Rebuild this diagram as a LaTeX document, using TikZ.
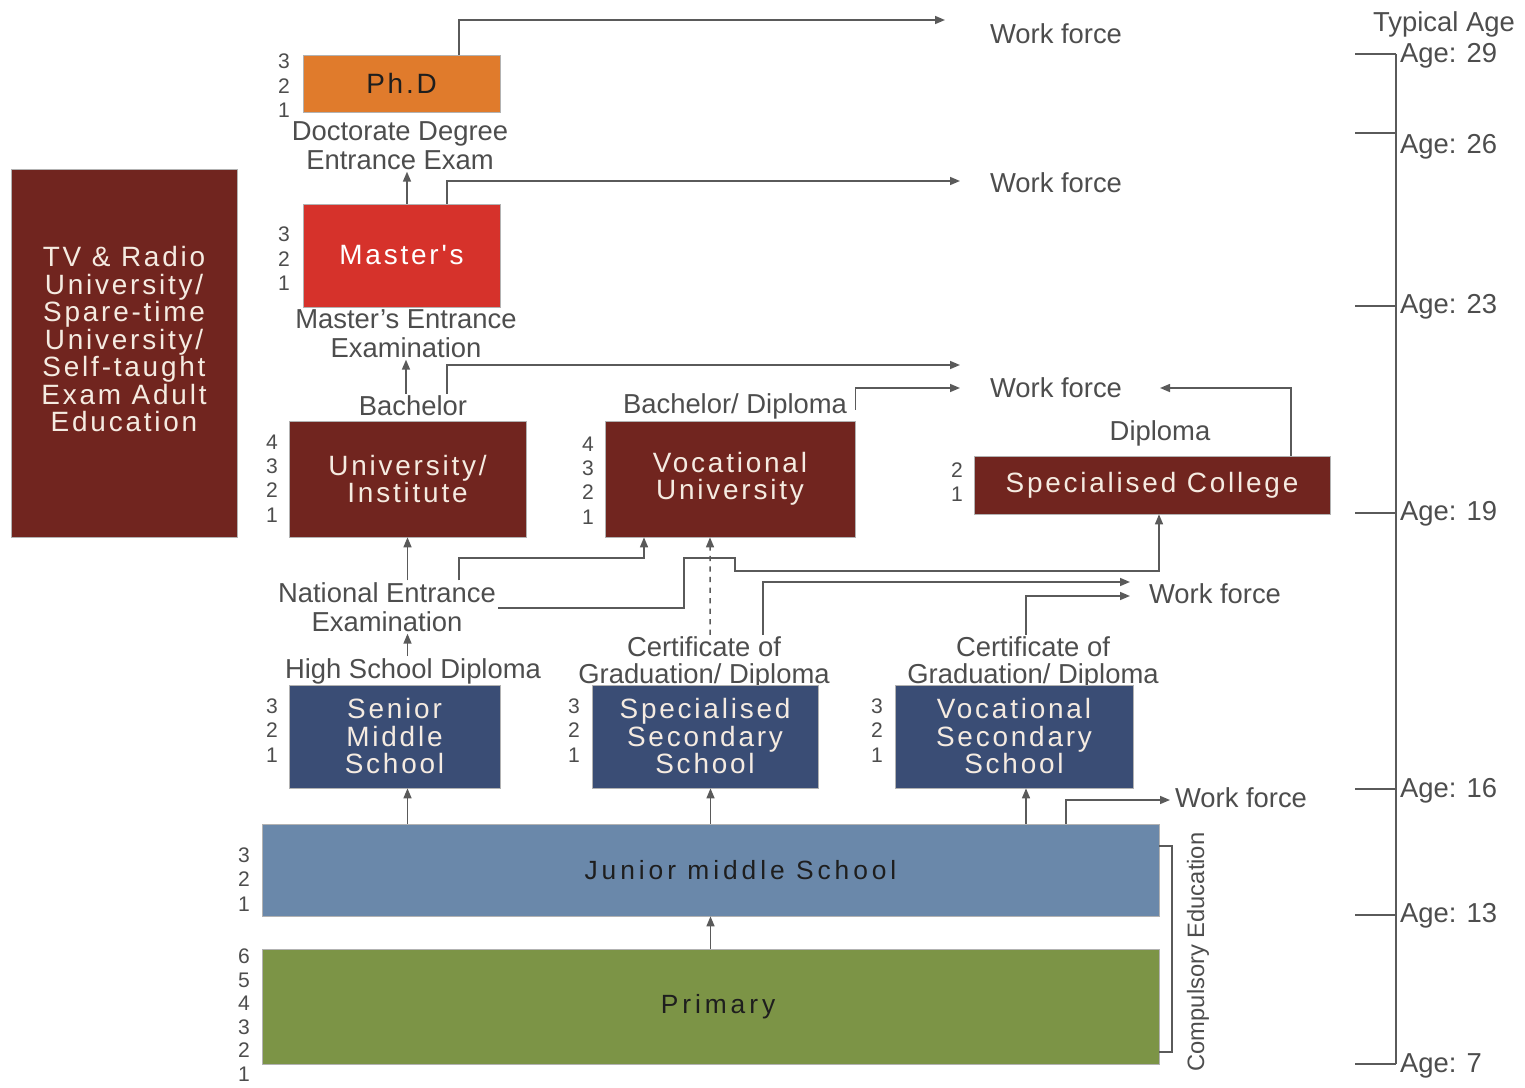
\documentclass[tikz,border=0pt]{standalone}
\usepackage{fontspec}
\setmainfont{Liberation Sans}
\newfontfamily\boxfont[LetterSpace=10]{Liberation Sans}
\newfontfamily\wideboxfont[LetterSpace=15]{Liberation Sans}
\usetikzlibrary{arrows.meta}

\definecolor{phdorange}{RGB}{224,123,44}
\definecolor{mastred}{RGB}{214,50,43}
\definecolor{wine}{RGB}{113,37,31}
\definecolor{navy}{RGB}{58,77,117}
\definecolor{juniorblue}{RGB}{106,136,170}
\definecolor{primgreen}{RGB}{124,148,70}
\definecolor{labelgray}{RGB}{77,77,77}
\definecolor{linegray}{RGB}{90,90,90}
\definecolor{boxtxt}{RGB}{245,235,225}
\definecolor{darktxt}{RGB}{30,30,30}

\begin{document}
\begin{tikzpicture}[x=0.02cm,y=-0.02cm,
		box/.style={draw=gray!60, inner sep=0pt, align=center, text=boxtxt,
			font=\boxfont\fontsize{15.9}{15.65}\selectfont},
		lbl/.style={inner sep=1pt, align=center, text=labelgray,
			font=\fontsize{15.6}{16.5}\selectfont},
		yrs/.style={inner sep=0pt, align=center, text=labelgray,
			font=\fontsize{12}{13.9}\selectfont},
		conn/.style={draw=linegray, line width=0.85pt},
		arr/.style={conn, -{Triangle[length=2mm,width=1.6mm]}}]
			\useasboundingbox (0,0) rectangle (1525,1088);

			% higher education
			\node[box, fill=phdorange, text=darktxt, minimum width=3.94cm, minimum height=1.14cm] (phd) at (401.5,83.5) {Ph.D};
			\node[lbl] (dde) at (400,145.5) {Doctorate Degree\\Entrance Exam};
			\node[box, fill=mastred, text=white, minimum width=3.94cm, minimum height=2.06cm] (master) at (401.5,255.5) {Master's};
			\node[lbl] (mee) at (406,333.5) {Master's Entrance\\Examination};
			\node[lbl] (bach) at (413,406) {Bachelor};
			\node[lbl] (bd) at (735,406) {Bachelor/ Diploma};
			\node[lbl] (dipl) at (1160,433) {Diploma};
			\node[box, fill=wine, minimum width=4.74cm, minimum height=2.32cm] (univ) at (407.5,479) {University/\\Institute};
			\node[box, fill=wine, minimum width=5cm, minimum height=2.32cm] (vocu) at (730,479) {Vocational\\University};
			\node[box, fill=wine, minimum width=7.12cm, minimum height=1.16cm] (spcol) at (1152,485) {Specialised College};
			\node[box, fill=wine, minimum width=4.52cm, minimum height=7.36cm] (tvr) at (124,353)
				{TV \& Radio\\University/\\Spare-time\\University/\\Self-taught\\Exam Adult\\Education\\[0pt]};

			\node[lbl] (wf1) at (1056,34) {Work force};
			\node[lbl] (wf2) at (1056,183) {Work force};
			\node[lbl] (wf3) at (1056,388) {Work force};
			\node[lbl] (wf4) at (1215,594) {Work force};
			\node[lbl] (wf5) at (1241,798) {Work force};

			% secondary
			\node[lbl] (nee) at (387,607) {National Entrance\\Examination};
			\node[lbl] (hsd) at (413,671) {High School Diploma};
			\node[lbl, font=\fontsize{15.6}{15}\selectfont] (cgd1) at (704,663) {Certificate of\\Graduation/ Diploma};
			\node[lbl, font=\fontsize{15.6}{15}\selectfont] (cgd2) at (1033,663) {Certificate of\\Graduation/ Diploma};
			\node[box, fill=navy, minimum width=4.22cm, minimum height=2.06cm] (senior) at (394.5,736.5) {Senior\\Middle\\School};
			\node[box, fill=navy, minimum width=4.52cm, minimum height=2.06cm] (specsec) at (705,736.5) {Specialised\\Secondary\\School};
			\node[box, fill=navy, minimum width=4.76cm, minimum height=2.06cm] (vocsec) at (1014,736.5) {Vocational\\Secondary\\School};

			% compulsory
			\node[box, fill=juniorblue, text=darktxt, font=\wideboxfont\fontsize{15}{15}\selectfont,
				minimum width=17.94cm, minimum height=1.84cm] (junior) at (710.5,870) {\hspace*{1.2cm}Junior middle School};
			\node[box, fill=primgreen, text=darktxt, font=\wideboxfont\fontsize{15}{15}\selectfont,
				minimum width=17.94cm, minimum height=2.3cm] (primary) at (710.5,1006.5) {\hspace*{0.3cm}Primary};
			\node[lbl, rotate=90, font=\fontsize{13.5}{14}\selectfont] (comp) at (1198,952) {Compulsory Education};

			% years of study
			\node[yrs] (yr-phd) at (284,86) {3\\2\\1};
			\node[yrs] (yr-master) at (284,259) {3\\2\\1};
			\node[yrs] (yr-univ) at (272,478.5) {4\\3\\2\\1};
			\node[yrs] (yr-vocu) at (588,480.5) {4\\3\\2\\1};
			\node[yrs] (yr-spcol) at (957,482) {2\\1};
			\node[yrs] (yr-senior) at (272,730.5) {3\\2\\1};
			\node[yrs] (yr-specsec) at (574,730.5) {3\\2\\1};
			\node[yrs] (yr-vocsec) at (877,730.5) {3\\2\\1};
			\node[yrs] (yr-junior) at (244,879.5) {3\\2\\1};
			\node[yrs, font=\fontsize{12}{13.4}\selectfont] (yr-primary) at (244,1015) {6\\5\\4\\3\\2\\1};

			% arrow ends and bends
			\coordinate (tip1) at (945,20);
			\coordinate (tip2) at (960,181);
			\coordinate (tip3) at (960,365);
			\coordinate (tip4) at (960,388);
			\coordinate (tip5) at (1160,388);
			\coordinate (tip6) at (1130,582);
			\coordinate (tip7) at (1130,596);
			\coordinate (tip8) at (1170,800);
			\coordinate (b1) at (644,558);
			\coordinate (b2) at (684,558);
			\coordinate (b3) at (735,571);
			\coordinate (v1) at (1026,596);
			\coordinate (cbtop) at (1172,846);
			\coordinate (cbbot) at (1172,1052);

			% connectors
			\draw[arr] ([xshift=1.15cm]phd.north) |- (tip1);
			\draw[arr] ([xshift=0.11cm]master.north) -- ([xshift=0.11cm]master.north |- dde.south);
			\draw[arr] ([xshift=0.91cm]master.north) |- (tip2);
			\draw[arr] (mee.south |- bach.north) -- (mee.south);
			\draw[arr] ([xshift=0.68cm]bach.north) |- (tip3);
			\draw[arr] (vocu.north east) ++(0,-11) |- (tip4);
			\draw[arr] ([xshift=2.78cm]spcol.north) |- (tip5);
			\draw[arr] (nee.north -| univ.south) -- (univ.south);
			\draw[arr] ([xshift=1.44cm]nee.north) |- (b1) -- (b1 |- vocu.south);
			\draw[arr] ([yshift=-0.02cm]nee.east) -| (b2) -| (b3) -| ([xshift=0.14cm]spcol.south);
			\draw[arr, dashed] ([xshift=0.12cm]cgd1.north) -- ([xshift=-0.4cm]vocu.south);
			\draw[arr] ([xshift=1.18cm]cgd1.north) |- (tip6);
			\draw[arr] (cgd2.north -| v1) |- (tip7);
			\draw[arr] (hsd.north -| univ.south) -- (nee.south -| univ.south);
			\draw[arr] (junior.north -| univ.south) -- (senior.south -| univ.south);
			\draw[arr] (junior.north) -- (junior.north |- specsec.south);
			\draw[arr] (junior.north -| v1) -- (vocsec.south -| v1);
			\draw[arr] ([xshift=7.11cm]junior.north) |- (tip8);
			\draw[arr] (primary.north) -- (junior.south);
			\draw[conn] (junior.east |- cbtop) -- (cbtop) -- (cbbot) -- (primary.east |- cbbot);

			% typical age
			\node[lbl] (tage) at (1444,24) {Typical Age};
			\draw[conn] (1396,54) -- (1396,1064);
			\foreach \t/\l/\a in {54/56/29,133/147/26,306/307/23,513/514/19,789/791/16,915/916/13,1064/1066/7} {
				\draw[conn] (1355,\t) -- (1396,\t);
				\node[lbl, anchor=west] (age\a) at (1398,\l) {Age: \a};
			}
\end{tikzpicture}
\end{document}
